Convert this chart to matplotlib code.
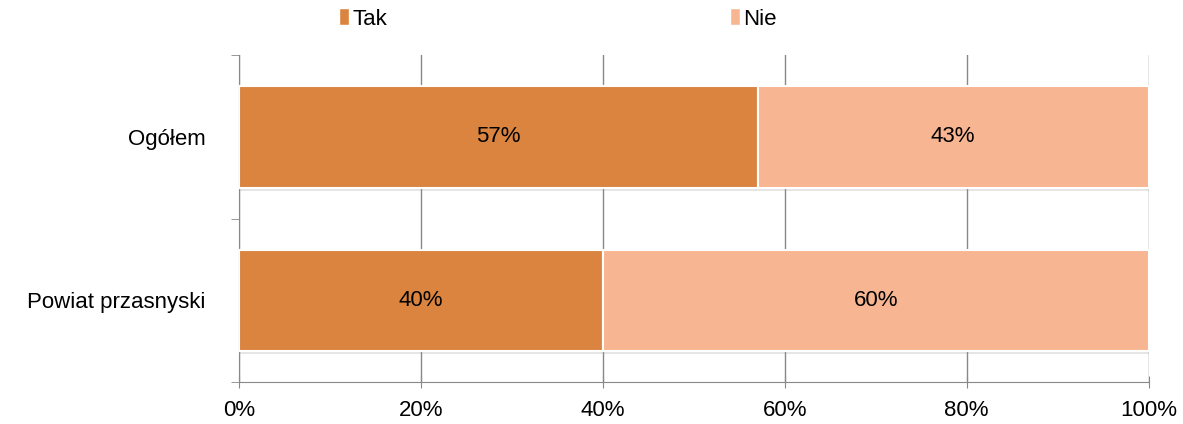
import numpy as np
import matplotlib.pyplot as plt
import matplotlib.patheffects as pe
from matplotlib.patches import Patch

plt.rcParams['font.family'] = ['Liberation Sans', 'DejaVu Sans']

categories = ['Ogółem', 'Powiat przasnyski']
series_names = ['Tak', 'Nie']
tak_values = [57, 40]
nie_values = [43, 60]
colors = ['#DA8440', '#F8B592']

fig = plt.figure(figsize=(11.83, 4.24), dpi=100)
ax = fig.add_axes([0.202, 0.099, 0.769, 0.771])

# categories top to bottom
y_pos = np.arange(len(categories))[::-1]
bar_h = 0.62
shadow = [pe.SimplePatchShadow(offset=(0, -2.5), shadow_rgbFace='#999999', alpha=0.25), pe.Normal()]

left = np.zeros(len(categories))
for name, vals, col in zip(series_names, [tak_values, nie_values], colors):
    bars = ax.barh(y_pos, vals, left=left, height=bar_h, color=col,
                   edgecolor='white', linewidth=1.5, zorder=3)
    for b in bars:
        b.set_path_effects(shadow)
    for y, l, v in zip(y_pos, left, vals):
        ax.text(l + v / 2, y, f'{v}%', ha='center', va='center', fontsize=16, color='black', zorder=4)
    left = left + np.array(vals)

ax.set_xlim(0, 100)
ax.set_ylim(-0.5, len(categories) - 0.5)
ax.set_xticks(np.arange(0, 101, 20))
ax.set_xticklabels([f'{t}%' for t in range(0, 101, 20)], fontsize=16)
ax.set_yticks(y_pos)
ax.set_yticklabels(categories, fontsize=16)
ax.set_yticks(np.arange(-0.5, len(categories), 1), minor=True)

ax.tick_params(axis='y', which='major', length=0, pad=24)
ax.tick_params(axis='y', which='minor', length=6, color='#888888', direction='out')
ax.tick_params(axis='x', length=8, color='#888888', direction='inout', pad=9)

ax.grid(axis='x', color='#888888', linewidth=1, zorder=0)
ax.set_axisbelow(True)
for s in ['top', 'right']:
    ax.spines[s].set_visible(False)
for s in ['left', 'bottom']:
    ax.spines[s].set_color('#888888')

handles = [Patch(facecolor=c, edgecolor='white') for c in colors]
fig.legend(handles, series_names, loc='center left', bbox_to_anchor=(0.27, 0.955), ncol=2,
           frameon=False, fontsize=16, handlelength=0.45, handleheight=0.8,
           handletextpad=0.15, columnspacing=15.4)

fig.savefig('out.png', dpi=100)
